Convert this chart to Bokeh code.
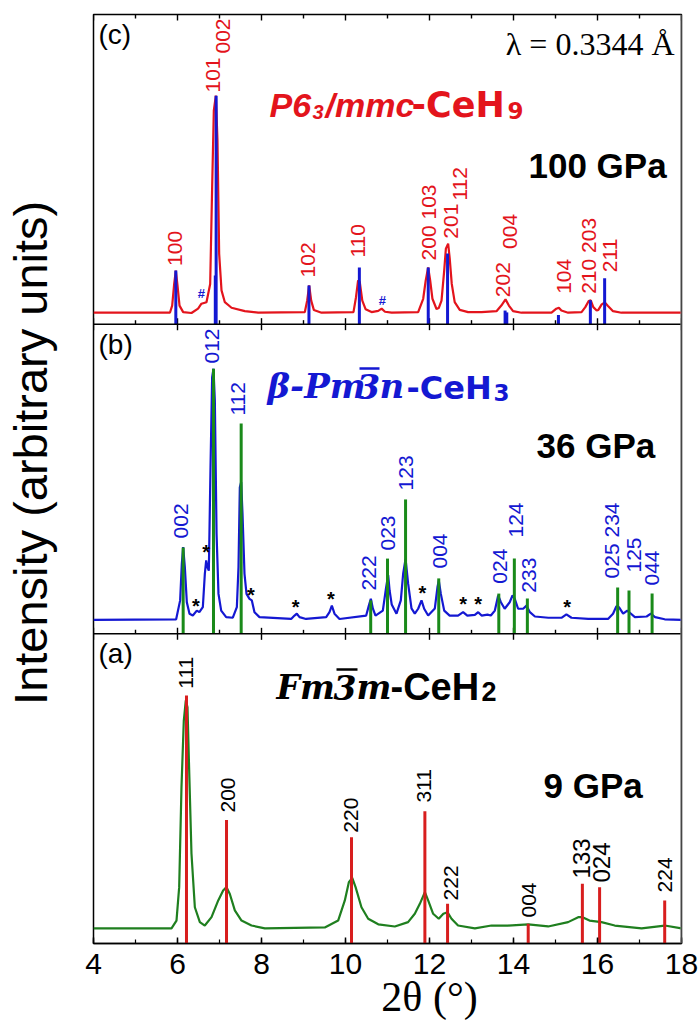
import numpy as np
from bokeh.plotting import figure
from bokeh.models import Label, Span, SingleIntervalTicker, LinearAxis, FixedTicker
from bokeh.core.properties import value
from bokeh.embed import file_html
from bokeh.resources import INLINE

# ---------------------------------------------------------------------------
# Data: synchrotron XRD patterns of Ce hydrides (2-theta in degrees, intensity
# in arbitrary units on a 0-100 scale per panel)
# ---------------------------------------------------------------------------

# (c) 100 GPa, P6_3/mmc-CeH9 : measured pattern
c_two_theta = [4.00, 5.82, 5.873, 5.921, 5.960, 6.00, 6.048, 6.135, 6.333, 6.49, 6.57, 6.69,
               6.778, 6.825, 6.865, 6.913, 6.952, 6.992, 7.048, 7.127, 7.286, 7.603, 7.921,
               9.032, 9.087, 9.135, 9.183, 9.246, 9.43, 10.19, 10.25, 10.30, 10.34, 10.40,
               10.48, 10.62, 10.78, 10.86, 10.94, 11.10, 11.73, 11.85, 11.91, 11.968, 12.016,
               12.07, 12.167, 12.22, 12.286, 12.35, 12.39, 12.444, 12.48, 12.53, 12.60, 12.72,
               12.92, 13.24, 13.595, 13.71, 13.81, 13.89, 13.99, 14.19, 14.905, 15.02, 15.08,
               15.14, 15.30, 15.62, 15.71, 15.79, 15.84, 15.90, 15.98, 16.02, 16.10, 16.175,
               16.25, 16.37, 16.57, 18.00]
c_intensity = [3.7, 3.7, 6.0, 13.0, 17.3, 12.5, 6.0, 3.9, 3.6, 5.0, 6.6, 7.1,
               13.0, 44.2, 69.0, 73.8, 59.3, 22.7, 10.9, 7.1, 5.3, 4.2, 3.7,
               3.9, 7.6, 12.5, 7.6, 4.6, 3.7, 3.9, 8.7, 14.1, 13.6, 7.6,
               4.8, 3.9, 4.3, 5.0, 4.0, 3.7, 3.9, 8.2, 14.1, 18.3, 14.1,
               8.2, 4.9, 5.2, 7.6, 17.3, 24.4, 26.0, 21.4, 13.0, 7.1, 4.6,
               3.9, 3.9, 4.2, 6.0, 8.0, 6.0, 4.2, 3.7, 3.7, 5.0, 5.3,
               4.4, 3.7, 3.9, 5.5, 7.5, 7.7, 5.5, 4.4, 4.6, 6.4, 7.0,
               5.9, 4.2, 3.7, 3.7]
# (c) calculated reflections
c_ref_pos = [5.96, 6.90, 6.92, 9.13, 10.33, 11.97, 12.43, 13.80, 13.84, 15.07, 15.83, 16.17]
c_ref_int = [17.3, 15.7, 73.8, 12.5, 18.3, 18.3, 22.8, 4.4, 3.8, 3.0, 7.7, 14.8]
c_hkl = ["100", "101", "002", "102", "110", "200 103", "201", "112", "202", "004",
         "104", "210 203", "211"]
# (c) unidentified peaks
c_extra_pos = [6.57, 10.88]
c_extra_int = [9.8, 7.6]

# (b) 36 GPa, beta-Pm-3n-CeH3 : measured pattern
b_two_theta = [4.00, 5.968, 6.063, 6.103, 6.135, 6.175, 6.222, 6.286, 6.365, 6.46, 6.52, 6.603,
               6.651, 6.683, 6.714, 6.746, 6.786, 6.825, 6.857, 6.889, 6.93, 6.976, 7.04,
               7.159, 7.317, 7.413, 7.452, 7.484, 7.516, 7.548, 7.595, 7.643, 7.714, 7.77,
               7.833, 7.952, 8.706, 8.786, 8.841, 8.905, 9.06, 9.54, 9.619, 9.675, 9.738,
               9.857, 10.492, 10.556, 10.603, 10.651, 10.714, 10.889, 10.968, 11.016, 11.05,
               11.10, 11.214, 11.317, 11.373, 11.43, 11.492, 11.571, 11.65, 11.73, 11.81,
               11.873, 11.968, 12.127, 12.19, 12.222, 12.27, 12.35, 12.48, 12.68, 12.80,
               12.90, 13.08, 13.16, 13.24, 13.38, 13.46, 13.556, 13.635, 13.70, 13.79,
               13.91, 13.976, 14.03, 14.11, 14.23, 14.31, 14.39, 14.51, 14.83, 15.15,
               15.26, 15.38, 15.78, 16.25, 16.37, 16.45, 16.51, 16.61, 16.71, 16.77,
               16.89, 17.17, 17.27, 17.37, 17.60, 18.00]
b_intensity = [4.5, 4.7, 10.8, 22.6, 28.0, 21.5, 10.2, 6.5, 5.9, 7.5, 7.0, 8.6,
               19.4, 23.7, 21.5, 20.4, 53.8, 82.9, 85.6, 75.3, 32.3, 12.9, 7.5,
               5.4, 5.2, 8.6, 21.5, 47.3, 49.0, 38.7, 19.4, 12.9, 11.3, 10.8,
               7.0, 5.4, 4.8, 5.9, 6.5, 5.4, 4.8, 5.4, 7.0, 9.1, 6.5,
               4.8, 5.9, 9.1, 11.3, 8.2, 5.9, 7.5, 15.1, 19.0, 14.0,
               9.5, 6.5, 10.8, 19.4, 24.2, 16.1, 8.2, 6.5, 8.1, 10.8,
               8.1, 5.9, 8.2, 15.1, 17.2, 12.9, 7.5, 5.9, 5.9, 7.0,
               5.9, 6.1, 7.0, 5.9, 6.2, 5.9, 7.5, 12.4, 10.2, 8.1,
               10.2, 12.4, 11.3, 8.1, 8.1, 9.1, 7.0, 5.6, 5.2, 5.2,
               6.3, 5.2, 4.8, 4.8, 6.5, 8.9, 8.6, 6.5, 7.5, 6.8,
               5.4, 5.6, 6.5, 5.4, 4.7, 4.5]
# (b) calculated reflections
b_ref_pos = [6.135, 6.857, 7.516, 10.60, 11.00, 11.43, 12.22, 13.65, 14.02, 14.33, 16.48, 16.75, 17.30]
b_ref_int = [27.9, 85.6, 67.9, 10.8, 24.3, 43.4, 17.9, 13.0, 24.3, 11.4, 15.0, 14.0, 13.0]
b_hkl = ["002", "012", "112", "222", "023", "123", "004", "024", "124", "233",
         "025 234", "125", "044"]
# (b) impurity peaks
b_extra_pos = [6.44, 6.68, 7.75, 8.81, 9.65, 11.83, 12.80, 13.16, 15.28]
b_extra_int = [9.1, 26.4, 12.4, 8.8, 11.3, 13.1, 9.5, 9.5, 8.8]

# (a) 9 GPa, Fm-3m-CeH2 : measured pattern
a_two_theta = [4.00, 5.857, 5.976, 6.04, 6.095, 6.15, 6.198, 6.238, 6.278, 6.333, 6.413, 6.532,
               6.65, 6.81, 6.97, 7.087, 7.167, 7.246, 7.365, 7.524, 7.762, 8.08, 9.508,
               9.825, 9.984, 10.08, 10.16, 10.24, 10.38, 10.54, 10.78, 11.175, 11.49, 11.65,
               11.77, 11.89, 11.968, 12.087, 12.22, 12.33, 12.43, 12.524, 12.68, 13.08,
               13.476, 13.87, 14.35, 14.825, 15.30, 15.54, 15.643, 15.81, 16.095, 16.41,
               17.05, 17.60, 18.00]
a_intensity = [4.9, 4.9, 7.4, 18.2, 50.5, 72.0, 78.5, 76.3, 55.9, 29.0, 11.7, 6.9,
               5.8, 8.5, 13.9, 17.1, 18.2, 16.0, 10.7, 7.4, 5.8, 4.9, 5.2,
               7.4, 13.9, 19.8, 21.2, 18.2, 11.7, 8.0, 6.2, 5.5, 6.9, 9.6,
               12.8, 16.6, 13.9, 9.6, 8.0, 9.6, 10.1, 8.0, 5.8, 4.9,
               5.8, 5.8, 6.2, 5.5, 6.9, 8.5, 8.5, 7.4, 6.9, 5.8,
               4.9, 5.8, 4.9]
# (a) calculated reflections
a_ref_pos = [6.214, 7.167, 10.143, 11.89, 12.43, 14.35, 15.64, 16.05, 17.60]
a_ref_int = [80.1, 39.9, 34.3, 42.7, 12.8, 6.4, 19.3, 18.2, 13.9]
a_hkl = ["111", "200", "220", "311", "222", "004", "133", "024", "224"]

# ---------------------------------------------------------------------------
# Layout of the hkl annotations (anchor = bottom centre of the rotated text)
# ---------------------------------------------------------------------------
c_lab_x = [5.94, 6.85, 7.09, 9.11, 10.30, 11.97, 12.50, 12.72, 13.75, 13.91, 15.21, 15.78, 16.29]
c_lab_y = [18.8, 74.8, 87.4, 15.1, 21.5, 20.6, 27.6, 39.9, 8.7, 24.3, 9.8, 9.8, 16.8]
b_lab_x = [6.095, 6.825, 7.445, 10.57, 11.02, 11.45, 12.26, 13.67, 14.05, 14.38, 16.33, 16.88, 17.29]
b_lab_y = [30.8, 87.3, 70.5, 14.0, 26.9, 46.3, 21.1, 16.2, 31.1, 13.3, 17.9, 19.8, 15.6]
a_lab_x = [6.21, 7.21, 10.14, 11.88, 12.52, 14.37, 15.62, 16.10, 17.60]
a_lab_y = [82.3, 42.3, 35.8, 45.5, 13.9, 8.4, 21.0, 19.7, 16.5]
a_lab_size = ["21px", "21px", "21px", "21px", "21px", "21px", "24px", "24px", "21px"]

RED = "#e3141c"
BLUE = "#1418d2"
GREEN = "#1f7f1f"
BAR_GREEN = "#1a8a1a"
BAR_RED = "#d81e1e"

SANS = "Liberation Sans"
SERIF = "Liberation Serif"
MATH = "DejaVu Serif"
BOLD_SANS = "DejaVu Sans"

FRAME_W, FRAME_H = 588, 929
LEFT, TOP = 92, 14
NBSP = "\u00a0"

p = figure(frame_width=FRAME_W, frame_height=FRAME_H,
           x_range=(4, 18), y_range=(0, 300),
           y_axis_location=None,
           output_backend="svg", toolbar_location=None,
           min_border_left=LEFT, min_border_right=19,
           min_border_top=TOP, min_border_bottom=87)
p.xgrid.visible = False
p.ygrid.visible = False
p.outline_line_color = "black"
p.outline_line_width = 1.5
p.background_fill_color = "white"
p.border_fill_color = "white"

# bottom axis: inward ticks, large numerals, serif title
ax = p.xaxis[0]
ax.ticker = SingleIntervalTicker(interval=2, num_minor_ticks=2)
ax.major_tick_in = 6
ax.major_tick_out = 0
ax.minor_tick_in = 4
ax.minor_tick_out = 0
ax.axis_line_color = "black"
ax.axis_line_width = 1.5
ax.major_tick_line_width = 1.5
ax.minor_tick_line_width = 1.2
ax.major_label_text_font = SANS
ax.major_label_text_font_size = "30px"
ax.major_label_text_color = "black"
ax.major_label_standoff = 10
ax.axis_label = NBSP * 8 + "2\u03b8 (\u00b0)"
ax.axis_label_text_font = SERIF
ax.axis_label_text_font_size = "42px"
ax.axis_label_text_font_style = "normal"
ax.axis_label_text_color = "black"
ax.axis_label_standoff = -3

# left axis carries only the intensity title
yax = LinearAxis(ticker=FixedTicker(ticks=[]), axis_line_color=None,
                 major_tick_in=0, major_tick_out=0, minor_tick_in=0, minor_tick_out=0,
                 major_label_text_font_size="0px", major_label_standoff=0,
                 axis_label=NBSP * 4 + "Intensity (arbitrary units)",
                 axis_label_standoff=37, axis_label_text_font=SANS,
                 axis_label_text_font_size="47px", axis_label_text_font_style="normal",
                 axis_label_text_color="black")
p.add_layout(yax, "left")

# Panel separators with inward ticks, and ticks along the top edge
PANEL = 100.0
for sep in (PANEL, 2 * PANEL):
    p.add_layout(Span(location=sep, dimension="width", line_color="black", line_width=1.5))

px_per_unit = FRAME_H / 300.0
maj_len = 6 / px_per_unit
min_len = 4 / px_per_unit
tick_x = np.arange(4, 19, 1)
major = [t for t in tick_x if t % 2 == 0]
minor = [t for t in tick_x if t % 2 == 1]
tx0, ty0, ty1 = [], [], []
for sep in (PANEL, 2 * PANEL):
    for t in major:
        tx0.append(t); ty0.append(sep - maj_len); ty1.append(sep + maj_len)
    for t in minor:
        tx0.append(t); ty0.append(sep); ty1.append(sep + min_len)
top = 3 * PANEL
for t in major:
    tx0.append(t); ty0.append(top - maj_len); ty1.append(top)
for t in minor:
    tx0.append(t); ty0.append(top - min_len); ty1.append(top)
p.segment(x0=tx0, y0=ty0, x1=tx0, y1=ty1, line_color="black", line_width=1.4)

p.add_layout(Span(location=18, dimension="height", line_color="#8a8a8a", line_width=2))


def draw_panel(offset, tt, inten, ref_pos, ref_int, curve_color, bar_color):
    p.line(x=tt, y=[offset + v for v in inten], line_color=curve_color, line_width=2.2)
    p.segment(x0=ref_pos, y0=[offset] * len(ref_pos), x1=ref_pos,
              y1=[offset + v for v in ref_int], line_color=bar_color, line_width=3)


def hkl_text(offset, xs, ys, texts, color, sizes):
    for x, y, t, s in zip(xs, ys, texts, sizes):
        p.text(x=[x], y=[offset + y], text=[t], angle=np.pi / 2,
               text_align="left", text_baseline="middle", text_color=color,
               text_font=value(SANS), text_font_size=value(s))


# (c)
draw_panel(2 * PANEL, c_two_theta, c_intensity, c_ref_pos, c_ref_int, RED, BLUE)
hkl_text(2 * PANEL, c_lab_x, c_lab_y, c_hkl, RED, ["21px"] * len(c_hkl))
p.text(x=c_extra_pos, y=[2 * PANEL + v for v in c_extra_int], text=["#"] * len(c_extra_pos),
       text_align="center", text_baseline="middle", text_color=BLUE,
       text_font=value(SANS), text_font_style="bold", text_font_size=value("13px"))

# (b)
draw_panel(PANEL, b_two_theta, b_intensity, b_ref_pos, b_ref_int, BLUE, BAR_GREEN)
hkl_text(PANEL, b_lab_x, b_lab_y, b_hkl, BLUE, ["21px"] * len(b_hkl))
p.text(x=b_extra_pos, y=[PANEL + v for v in b_extra_int], text=["*"] * len(b_extra_pos),
       text_align="center", text_baseline="middle", text_color="black",
       text_font=value(SANS), text_font_style="bold", text_font_size=value("20px"))

# (a)
draw_panel(0, a_two_theta, a_intensity, a_ref_pos, a_ref_int, GREEN, BAR_RED)
hkl_text(0, a_lab_x, a_lab_y, a_hkl, "black", a_lab_size)


def sx(px):
    """screen column -> 2-theta"""
    return 4 + (px - LEFT) * 14.0 / FRAME_W


def sy(py):
    """screen row -> stacked intensity coordinate"""
    return (TOP + FRAME_H - py) / px_per_unit


def label(px, base, text, font=SANS, size=30, style="normal", color="black", align="left"):
    # base = row of the text baseline; raise by the gap between Bokeh's anchor and the baseline
    y = sy(base - 0.3 * size)
    p.add_layout(Label(x=sx(px), y=y, x_units="data", y_units="data", text=text, text_font=font,
                       text_font_size=f"{size}px", text_font_style=style, text_color=color,
                       text_align=align, text_baseline="alphabetic"))


def overline(px0, px1, row, color):
    p.segment(x0=[sx(px0)], y0=[sy(row)], x1=[sx(px1)], y1=[sy(row)], line_color=color, line_width=2.5)


# panel letters
label(97, 42, "(c)", size=28)
label(97, 352, "(b)", size=28)
label(97, 661, "(a)", size=28)

# phase names
label(268, 115, "P6", size=34, style="bold italic", color=RED)
label(311, 117, "3", size=20, style="bold italic", color=RED)
label(324, 115, "/mmc", size=34, style="bold italic", color=RED)
label(410, 115, "-CeH", font=BOLD_SANS, size=35, style="bold", color=RED)
label(506, 117, "9", font=BOLD_SANS, size=23, style="bold", color=RED)

label(266, 396, "\u03b2-Pm", font=MATH, size=34, style="bold italic", color=BLUE)
label(355, 396, "3", font=MATH, size=34, style="bold italic", color=BLUE)
overline(358, 378, 368, BLUE)
label(378, 396, "n", font=MATH, size=34, style="bold italic", color=BLUE)
label(405, 397, "-CeH", font=BOLD_SANS, size=32, style="bold", color=BLUE)
label(492, 399, "3", font=BOLD_SANS, size=23, style="bold", color=BLUE)

label(275, 697, "Fm", font=MATH, size=33, style="bold italic")
label(332, 697, "3", font=MATH, size=33, style="bold italic")
overline(335, 356, 669, "black")
label(355, 697, "m", font=MATH, size=33, style="bold italic")
label(389, 698, "-CeH", size=38, style="bold")
label(480, 699, "2", size=27, style="bold")

# pressures and wavelength
label(527, 175, "100 GPa", size=35, style="bold")
label(535, 455, "36 GPa", size=35, style="bold")
label(542, 795, "9 GPa", size=35, style="bold")
label(673, 53, "\u03bb = 0.3344 \u00c5", font=SERIF, size=32, align="right")

open("out.html", "w").write(file_html(p, INLINE))
